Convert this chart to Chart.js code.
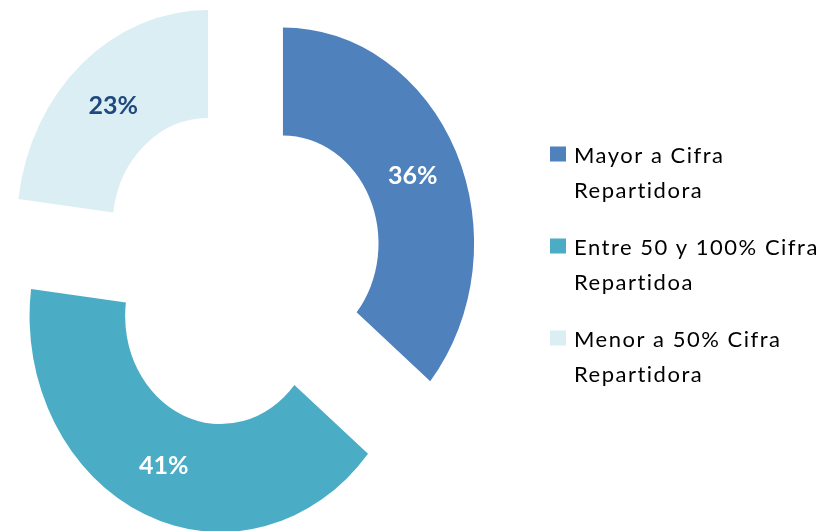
<!DOCTYPE html>
<html>
<head>
<meta charset="utf-8">
<script src="https://cdn.jsdelivr.net/npm/chart.js@4.4.1/dist/chart.umd.min.js"></script>
<style>
  body { margin: 0; background: #fff; }
  #wrap { width: 827px; height: 531px; }
</style>
</head>
<body>
<div id="wrap"><canvas id="chart1" width="827" height="531"></canvas></div>
<script>
// data
var categories = [
    ['Mayor a Cifra', 'Repartidora'],
    ['Entre 50 y 100% Cifra', 'Repartidoa'],
    ['Menor a 50% Cifra', 'Repartidora']
];
var shares = [36, 41, 23];

var sliceColors = ['#4F81BD', '#4BACC6', '#DBEEF4'];
var labelColors = ['#FFFFFF', '#FFFFFF', '#1F497D'];

// the original ring is a bit narrower than tall
var SX = 0.885;
var EXPLODE = 54;

var explodePlugin = {
    id: 'explode',
    beforeDatasetDraw: function (chart, args) {
        var ctx = chart.ctx;
        args.meta.data.forEach(function (arc) {
            var mid = (arc.startAngle + arc.endAngle) / 2;
            ctx.save();
            ctx.translate(arc.x, arc.y);
            ctx.scale(SX, 1);
            ctx.translate(Math.cos(mid) * EXPLODE, Math.sin(mid) * EXPLODE);
            ctx.translate(-arc.x, -arc.y);
            arc.draw(ctx);
            ctx.restore();
        });
        return false;
    },
    afterDatasetsDraw: function (chart) {
        var ctx = chart.ctx;
        var meta = chart.getDatasetMeta(0);
        ctx.save();
        ctx.font = 'bold 25px Lato';
        ctx.textAlign = 'center';
        ctx.textBaseline = 'middle';
        meta.data.forEach(function (arc, i) {
            var mid = (arc.startAngle + arc.endAngle) / 2;
            var rr = EXPLODE + (arc.innerRadius + arc.outerRadius) / 2;
            var x = arc.x + SX * Math.cos(mid) * rr;
            var y = arc.y + Math.sin(mid) * rr;
            ctx.fillStyle = labelColors[i];
            ctx.fillText(chart.data.datasets[0].data[i] + '%', x, y + 1);
        });
        ctx.restore();
    },
    afterDraw: function (chart) {
        var ctx = chart.ctx;
        ctx.save();
        ctx.font = '22px Lato';
        if ('letterSpacing' in ctx) ctx.letterSpacing = '1.5px';
        ctx.textAlign = 'left';
        ctx.textBaseline = 'alphabetic';
        chart.data.labels.forEach(function (lines, i) {
            var base = 163 + i * 92;
            ctx.fillStyle = sliceColors[i];
            ctx.fillRect(550, base - 16.5, 16, 15);
            ctx.fillStyle = '#000';
            lines.forEach(function (t, j) {
                ctx.fillText(t, 574, base + j * 35);
            });
        });
        ctx.restore();
    }
};

var ctx = document.getElementById('chart1').getContext('2d');

var myChart1 = new Chart(ctx, {
    type: 'doughnut',
    data: {
        labels: categories,
        datasets: [{
            data: shares,
            backgroundColor: sliceColors,
            borderWidth: 0
        }]
    },
    options: {
        responsive: false,
        animation: false,
        radius: 216,
        cutout: '50%',
        layout: {
            padding: { left: 0, right: 347.6, top: 2, bottom: 0 }
        },
        plugins: {
            legend: { display: false },
            tooltip: { enabled: false }
        }
    },
    plugins: [explodePlugin]
});
</script>
</body>
</html>
